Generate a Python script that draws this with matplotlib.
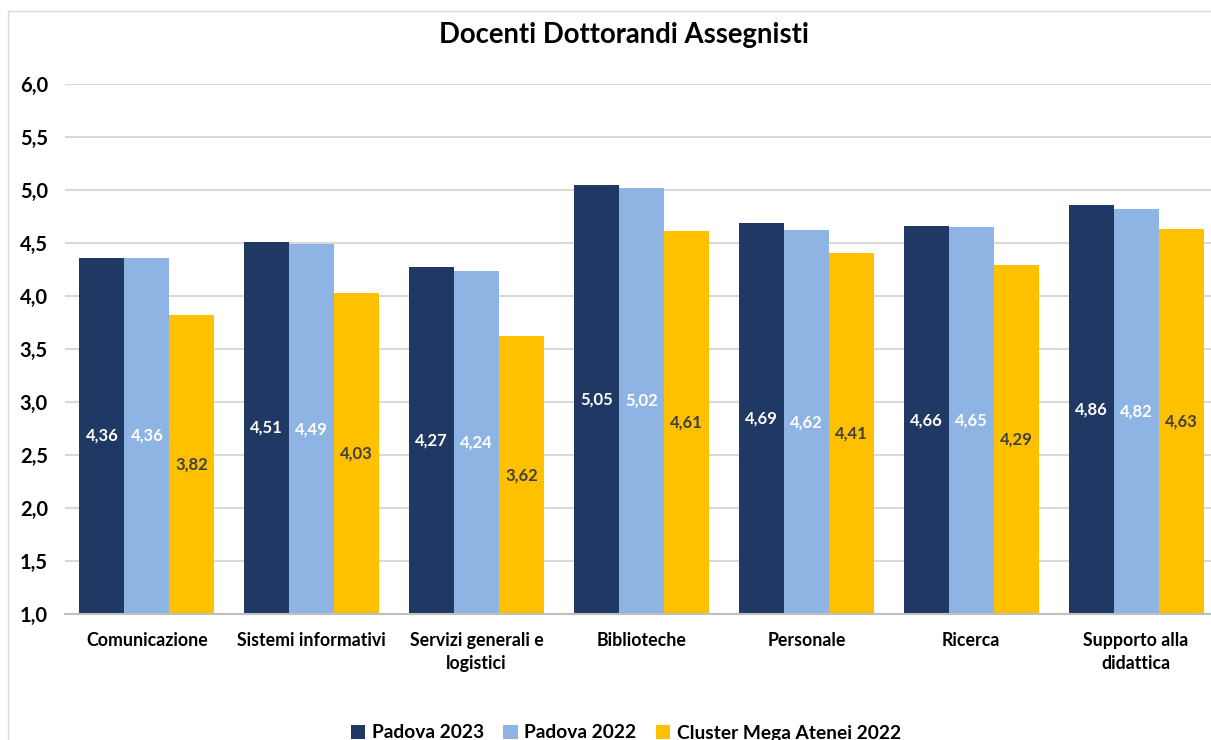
import matplotlib
matplotlib.use("Agg")
import matplotlib.pyplot as plt
import numpy as np
from matplotlib.patches import Rectangle

categories = ["Comunicazione", "Sistemi informativi", "Servizi generali e\nlogistici",
              "Biblioteche", "Personale", "Ricerca", "Supporto alla\ndidattica"]
padova_2023 = [4.36, 4.51, 4.27, 5.05, 4.69, 4.66, 4.86]
padova_2022 = [4.36, 4.49, 4.24, 5.02, 4.62, 4.65, 4.82]
cluster_2022 = [3.82, 4.03, 3.62, 4.61, 4.41, 4.29, 4.63]
series_names = ["Padova 2023", "Padova 2022", "Cluster Mega Atenei 2022"]
yticks = [1.0, 1.5, 2.0, 2.5, 3.0, 3.5, 4.0, 4.5, 5.0, 5.5, 6.0]
title = "Docenti Dottorandi Assegnisti"

colors = ["#1F3864", "#8EB4E3", "#FFC000"]
label_colors = ["white", "white", "#404040"]

plt.rcParams['font.family'] = ['Lato', 'DejaVu Sans']

W, H = 1211, 740
fig = plt.figure(figsize=(W / 100, H / 100), dpi=100)

# outer chart border
fig.add_artist(Rectangle((8 / W, -0.05), 1.1, (740 - 11) / H + 0.05, transform=fig.transFigure,
                         fill=False, edgecolor="#D9D9D9", linewidth=1))

left = 64.5 / W
right = 1218.5 / W
bottom = (H - 614) / H
top = (H - 84) / H
ax = fig.add_axes([left, bottom, right - left, top - bottom])

x = np.arange(len(categories))
bw = 0.273
offsets = [-bw, 0, bw]
handles = []
for data, off, c, lc, name in zip([padova_2023, padova_2022, cluster_2022], offsets, colors,
                                  label_colors, series_names):
    bars = ax.bar(x + off, np.array(data) - 1.0, bw, bottom=1.0, color=c, label=name, zorder=3)
    handles.append(bars)
    for xi, v in zip(x + off, data):
        ax.text(xi, (1.0 + v) / 2, f"{v:.2f}".replace(".", ","), ha="center", va="center",
                color=lc, fontsize=12, fontweight="bold", zorder=4)

ax.set_xlim(-0.5, len(categories) - 0.5)
ax.set_ylim(1.0, 6.0)
ax.set_yticks(yticks)
ax.set_yticklabels([f"{t:.1f}".replace(".", ",") for t in yticks], fontsize=14.5, fontweight="bold")
ax.set_xticks(x)
ax.set_xticklabels(categories, fontsize=12.8, fontweight="bold", linespacing=1.45)
ax.tick_params(axis="both", length=0, colors="black")
ax.tick_params(axis="x", pad=13)
ax.tick_params(axis="y", pad=12)
ax.yaxis.grid(True, color="#D9D9D9", linewidth=1.5, zorder=0)
ax.set_axisbelow(True)
for s in ["top", "right", "left"]:
    ax.spines[s].set_visible(False)
ax.spines["bottom"].set_color("#BFBFBF")
ax.spines["bottom"].set_linewidth(1.5)
ax.spines["bottom"].set_zorder(5)

fig.text(624 / W, (H - 35) / H, title, ha="center", va="center", fontsize=19.8, fontweight="bold")

leg = fig.legend(handles=handles, labels=series_names, loc="center", bbox_to_anchor=(626 / W, (H - 733) / H),
                 ncol=3, frameon=False, prop={"weight": "bold", "size": 13.8},
                 handlelength=0.75, handleheight=0.75, handletextpad=0.35, columnspacing=1.0)

fig.savefig("out.png", dpi=100)
